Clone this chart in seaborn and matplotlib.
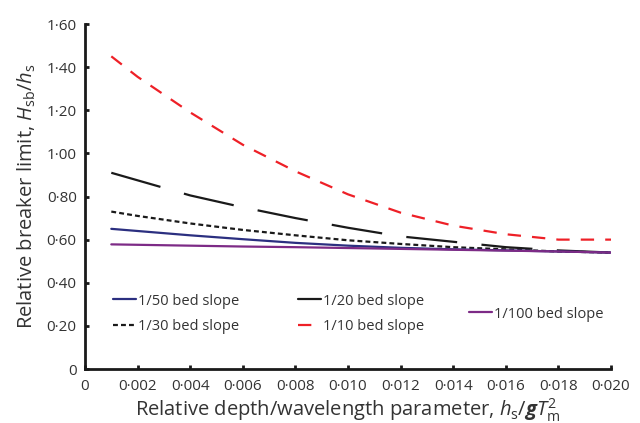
import matplotlib
matplotlib.use("Agg")
import matplotlib.pyplot as plt
import seaborn as sns
import numpy as np
import pandas as pd
from matplotlib.lines import Line2D
from matplotlib.ticker import FuncFormatter

sns.set_theme(style="ticks")
plt.rcParams['font.family'] = ['Open Sans', 'DejaVu Sans']
plt.rcParams['mathtext.fontset'] = 'custom'
plt.rcParams['mathtext.rm'] = 'Open Sans'
plt.rcParams['mathtext.it'] = 'Open Sans:italic'
plt.rcParams['mathtext.bf'] = 'Open Sans:italic:bold'

# ---- data ----
x_vals = [0.001, 0.002, 0.004, 0.006, 0.008, 0.010, 0.012, 0.014, 0.016, 0.018, 0.020]
slope_1_10 = [1.45, 1.355, 1.19, 1.04, 0.917, 0.81, 0.725, 0.665, 0.625, 0.60, 0.60]
slope_1_20 = [0.91, 0.875, 0.805, 0.75, 0.70, 0.655, 0.615, 0.59, 0.565, 0.55, 0.54]
slope_1_30 = [0.73, 0.71, 0.675, 0.645, 0.62, 0.597, 0.58, 0.565, 0.555, 0.545, 0.54]
slope_1_50 = [0.65, 0.64, 0.62, 0.602, 0.585, 0.572, 0.562, 0.555, 0.55, 0.545, 0.54]
slope_1_100 = [0.578, 0.576, 0.572, 0.568, 0.565, 0.561, 0.557, 0.553, 0.549, 0.545, 0.54]

labels = ["1/50 bed slope", "1/30 bed slope", "1/20 bed slope", "1/10 bed slope", "1/100 bed slope"]
x_ticks = [0, 0.002, 0.004, 0.006, 0.008, 0.010, 0.012, 0.014, 0.016, 0.018, 0.020]
y_ticks = [0, 0.2, 0.4, 0.6, 0.8, 1.0, 1.2, 1.4, 1.6]

series = {
    "1/50 bed slope": slope_1_50,
    "1/30 bed slope": slope_1_30,
    "1/20 bed slope": slope_1_20,
    "1/10 bed slope": slope_1_10,
    "1/100 bed slope": slope_1_100,
}
styles = {
    "1/50 bed slope": dict(color="#2B2F80", dashes=None),
    "1/30 bed slope": dict(color="#1a1a1a", dashes=(2.2, 1.4)),
    "1/20 bed slope": dict(color="#1a1a1a", dashes=(23, 11)),
    "1/10 bed slope": dict(color="#EE2027", dashes=(6, 5)),
    "1/100 bed slope": dict(color="#7D2B86", dashes=None),
}

text_color = "#333333"
fig = plt.figure(figsize=(6.4, 4.23), dpi=100)
ax = fig.add_axes([85/640, 1-369/423, (611-85)/640, (369-24)/423])

lw = 1.6
for name in ["1/10 bed slope", "1/20 bed slope", "1/30 bed slope", "1/50 bed slope", "1/100 bed slope"]:
    df = pd.DataFrame({"x": x_vals, "y": series[name]})
    sns.lineplot(data=df, x="x", y="y", ax=ax, color=styles[name]["color"], linewidth=lw)
    line = ax.lines[-1]
    if styles[name]["dashes"] is not None:
        line.set_dashes(styles[name]["dashes"])
        line.set_dash_capstyle("butt")

ax.set_xlim(0, 0.020)
ax.set_ylim(0, 1.6)
ax.set_xticks(x_ticks)
ax.set_yticks(y_ticks)

def fmt_x(v, pos):
    if abs(v) < 1e-12:
        return "0"
    return f"{v:.3f}".replace(".", "·")

def fmt_y(v, pos):
    if abs(v) < 1e-12:
        return "0"
    return f"{v:.2f}".replace(".", "·")

ax.xaxis.set_major_formatter(FuncFormatter(fmt_x))
ax.yaxis.set_major_formatter(FuncFormatter(fmt_y))
ax.tick_params(axis="both", direction="in", length=3, width=2, colors="#1a1a1a",
               labelcolor=text_color, labelsize=11, pad=6)
ax.tick_params(axis="x", pad=7)
for s in ["top", "right"]:
    ax.spines[s].set_visible(False)
for s in ["left", "bottom"]:
    ax.spines[s].set_linewidth(2)
    ax.spines[s].set_color("#1a1a1a")

ax.set_xlabel(r"Relative depth/wavelength parameter, $h_{\mathrm{s}}/\mathbf{g}T_{\mathrm{m}}^{2}$",
              fontsize=14.5, color=text_color, labelpad=2)
ax.set_ylabel(r"Relative breaker limit, $H_{\mathrm{sb}}/h_{\mathrm{s}}$",
              fontsize=14.5, color=text_color, labelpad=6)

def handle(name):
    st = styles[name]
    h = Line2D([0], [0], color=st["color"], linewidth=lw)
    if st["dashes"] is not None:
        h.set_dashes(st["dashes"])
    return h

common = dict(frameon=False, fontsize=10.5, handlelength=1.55, handletextpad=0.15,
              labelspacing=0.75, borderpad=0, borderaxespad=0, labelcolor=text_color)
ycen = (369-314)/345
leg1 = ax.legend([handle(labels[0]), handle(labels[1])], labels[0:2], loc="center left",
                 bbox_to_anchor=((113-85)/526, ycen), **common)
ax.add_artist(leg1)
h20 = Line2D([0], [0], color="#1a1a1a", linewidth=lw)
h10 = Line2D([0], [0], color="#EE2027", linewidth=lw)
h10.set_dashes((6, 20))
leg2 = ax.legend([h20, h10], labels[2:4], loc="center left",
                 bbox_to_anchor=((298-85)/526, ycen), **common)
ax.add_artist(leg2)
leg3 = ax.legend([handle(labels[4])], labels[4:5], loc="center left",
                 bbox_to_anchor=((469-85)/526, ycen), **common)

fig.savefig("out.png", dpi=100)
